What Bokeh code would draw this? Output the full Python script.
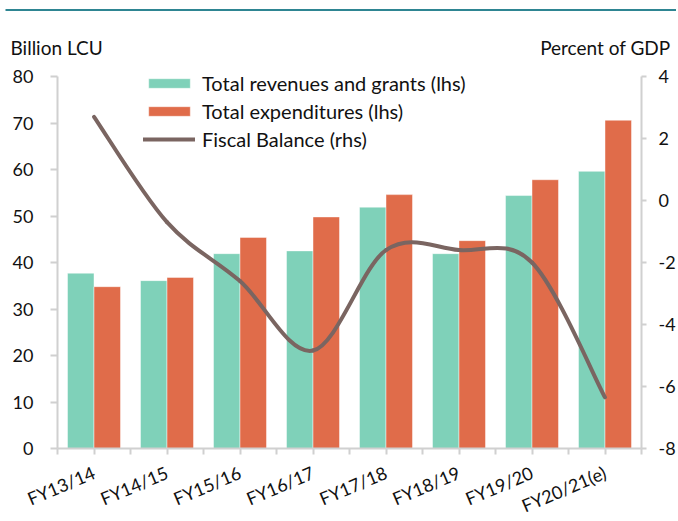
import numpy as np
from bokeh.plotting import figure
from bokeh.models import (Range1d, LinearAxis, FixedTicker, Legend, LegendItem,
                          Label, BoxAnnotation, ColumnDataSource)
from bokeh.embed import file_html
from bokeh.resources import INLINE

# ---------------- data ----------------
categories = ["FY13/14", "FY14/15", "FY15/16", "FY16/17", "FY17/18", "FY18/19", "FY19/20", "FY20/21(e)"]
revenues = [37.7, 36.1, 41.9, 42.5, 51.9, 41.9, 54.4, 59.6]
expenditures = [34.8, 36.8, 45.4, 49.8, 54.6, 44.7, 57.8, 70.6]
fiscal_balance = [2.7, -0.7, -2.6, -4.84, -1.6, -1.6, -2.0, -6.35]
left_ticks = [0, 10, 20, 30, 40, 50, 60, 70, 80]
right_ticks = [-8, -6, -4, -2, 0, 2, 4]
series_names = ["Total revenues and grants (lhs)", "Total expenditures (lhs)", "Fiscal Balance (rhs)"]
left_title = "Billion LCU"
right_title = "Percent of GDP"

# ---------------- style / layout (pixels) ----------------
FONT = "Lato"
TEAL = "#7fd1b9"
ORANGE = "#e06c4a"
BROWN = "#7a6561"
AXIS = "#d0d0d0"
RULE = "#2e8592"
TXT = "#111111"
BW = 0.363

W, H = 676, 519
PX_L, PX_R = 57, 641      # plot area left / right
PX_T, PX_B = 76, 448      # plot area top / bottom

n = len(categories)
idx = np.arange(n)
centers = idx + 0.5

# scales: the frame covers the whole canvas, axes are placed at fixed locations
xpu = (PX_R - PX_L) / n
lpu = (PX_B - PX_T) / (left_ticks[-1] - left_ticks[0])
rpu = (PX_B - PX_T) / (right_ticks[-1] - right_ticks[0])
x_range = Range1d(-PX_L / xpu, (W - PX_L) / xpu)
y_range = Range1d(left_ticks[0] - (H - PX_B) / lpu, left_ticks[-1] + PX_T / lpu)
r_range = Range1d(right_ticks[0] - (H - PX_B) / rpu, right_ticks[-1] + PX_T / rpu)

p = figure(width=W, height=H, x_range=x_range, y_range=y_range,
           output_backend="svg", toolbar_location=None, min_border=0,
           outline_line_color=None, background_fill_color="white", border_fill_color="white")
p.extra_y_ranges = {"right": r_range}
p.xgrid.visible = False
p.ygrid.visible = False

src = ColumnDataSource(dict(
    x_rev=centers - BW / 2, x_exp=centers + BW / 2,
    rev=revenues, exp=expenditures))

r_rev = p.vbar(x="x_rev", top="rev", width=BW, bottom=0, source=src,
               fill_color=TEAL, line_color="white", line_alpha=0.45, line_width=1)
r_exp = p.vbar(x="x_exp", top="exp", width=BW, bottom=0, source=src,
               fill_color=ORANGE, line_color="white", line_alpha=0.45, line_width=1)

# smoothed line (Excel-like) through the fiscal balance points
P = np.column_stack([centers, np.array(fiscal_balance, dtype=float)])
seg = {k: [] for k in ("x0", "y0", "x1", "y1", "cx0", "cy0", "cx1", "cy1")}
for i in range(n - 1):
    pm = P[i - 1] if i > 0 else P[i]
    pp = P[i + 2] if i + 2 < n else P[i + 1]
    c1 = P[i] + (P[i + 1] - pm) / 6.0
    c2 = P[i + 1] - (pp - P[i]) / 6.0
    seg["x0"].append(P[i][0]); seg["y0"].append(P[i][1])
    seg["x1"].append(P[i + 1][0]); seg["y1"].append(P[i + 1][1])
    seg["cx0"].append(c1[0]); seg["cy0"].append(c1[1])
    seg["cx1"].append(c2[0]); seg["cy1"].append(c2[1])
r_line = p.bezier(source=ColumnDataSource(seg), x0="x0", y0="y0", x1="x1", y1="y1",
                  cx0="cx0", cy0="cy0", cx1="cx1", cy1="cy1",
                  line_color=BROWN, line_width=4, line_cap="round", y_range_name="right")

# ---------------- axes ----------------
xa = p.xaxis[0]
xa.fixed_location = left_ticks[0]
xa.bounds = (0, n)
xa.ticker = FixedTicker(ticks=list(centers), minor_ticks=list(np.arange(n + 1)))
xa.major_label_overrides = {float(c): lab for c, lab in zip(centers, categories)}
xa.major_label_orientation = 0.4
xa.major_tick_in = 0
xa.major_tick_out = 6
xa.minor_tick_in = 0
xa.minor_tick_out = 6
xa.major_label_standoff = 17
xa.major_label_text_font_size = "18px"

ya = p.yaxis[0]
ya.fixed_location = 0
ya.bounds = (left_ticks[0], left_ticks[-1])
ya.ticker = FixedTicker(ticks=left_ticks)
ya.major_tick_in = 0
ya.major_tick_out = 7
ya.minor_tick_line_color = None
ya.major_label_standoff = 17
ya.major_label_text_font_size = "18px"

yr = LinearAxis(y_range_name="right", ticker=FixedTicker(ticks=right_ticks))
yr.fixed_location = n
yr.bounds = (right_ticks[0], right_ticks[-1])
yr.major_label_overrides = {t: str(t) for t in right_ticks}
yr.major_tick_in = 0
yr.major_tick_out = 5
yr.minor_tick_line_color = None
yr.major_label_standoff = 12
yr.major_label_text_font_size = "18px"
p.add_layout(yr, "right")

for ax in (xa, ya, yr):
    ax.axis_line_color = AXIS
    ax.axis_line_width = 2
    ax.major_tick_line_color = AXIS
    ax.major_tick_line_width = 2
    ax.minor_tick_line_width = 2
    ax.major_label_text_font = FONT
    ax.major_label_text_color = TXT
xa.minor_tick_line_color = AXIS

# ---------------- legend ----------------
legend = Legend(items=[LegendItem(label=series_names[0], renderers=[r_rev]),
                       LegendItem(label=series_names[1], renderers=[r_exp]),
                       LegendItem(label=series_names[2], renderers=[r_line])],
                location=(143, H - 151), padding=0, margin=0, spacing=4,
                glyph_width=52, glyph_height=12, label_standoff=7,
                label_text_font=FONT, label_text_font_size="20px", label_text_color=TXT,
                border_line_alpha=0, background_fill_alpha=0)
p.add_layout(legend)

# ---------------- header texts and rule ----------------
p.add_layout(Label(x=10, y=H - 47, x_units="screen", y_units="screen", text=left_title,
                   text_font=FONT, text_font_size="19px", text_color=TXT, text_baseline="middle"))
p.add_layout(Label(x=670, y=H - 47, x_units="screen", y_units="screen", text=right_title,
                   text_font=FONT, text_font_size="19px", text_color=TXT, text_baseline="middle",
                   text_align="right"))
p.add_layout(BoxAnnotation(left=5, right=W, top=H - 8.5, bottom=H - 10.5,
                           left_units="screen", right_units="screen",
                           top_units="screen", bottom_units="screen",
                           fill_color=RULE, fill_alpha=1, line_color=None))

open("out.html", "w").write(file_html(p, INLINE))
